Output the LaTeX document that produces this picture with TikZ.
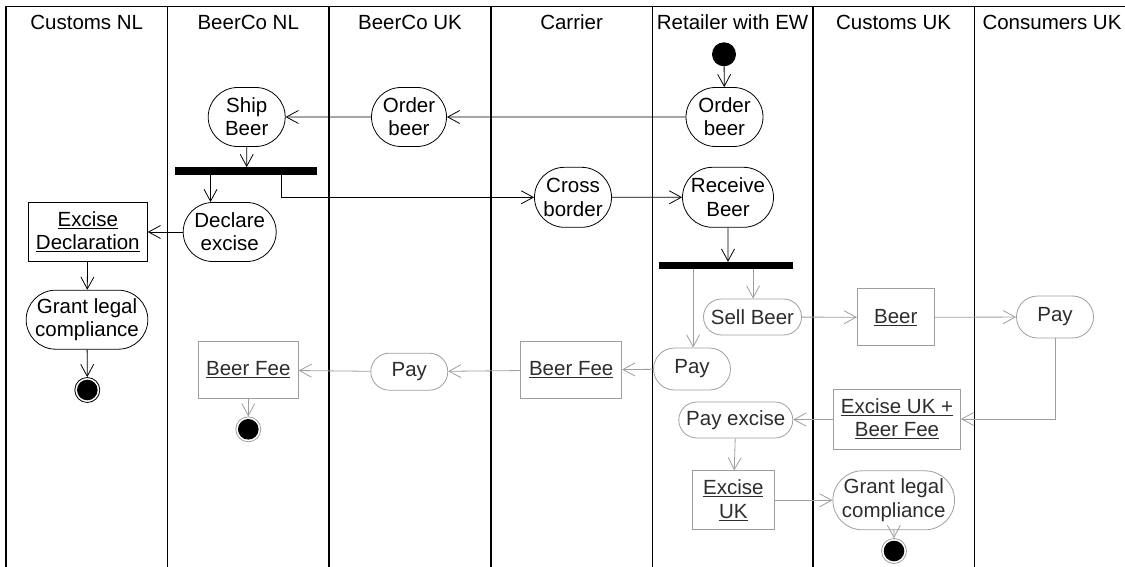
\documentclass[tikz,border=0pt]{standalone}
\usepackage{fontspec}
\setmainfont{Liberation Sans}
\usetikzlibrary{arrows.meta,shapes.misc,calc}
\definecolor{lineg}{RGB}{158,158,158}
\definecolor{textg}{RGB}{45,45,45}
\newcommand{\lbl}{\fontsize{20.5}{23.3}\selectfont}

\begin{document}
\begin{tikzpicture}[x=1pt,y=-1pt,
  lane/.style={line width=1.3pt},
  head/.style={font=\lbl, inner sep=0pt},
  act/.style={rounded rectangle, draw, line width=0.8pt, inner sep=0pt, align=center, font=\lbl},
  obj/.style={rectangle, draw, line width=0.8pt, inner sep=0pt, align=center, font=\lbl},
  grey/.style={draw=lineg, text=textg},
  flow/.style={line width=0.8pt, -{Straight Barb[length=12pt,width=13pt]}},
  gflow/.style={flow, draw=lineg},
  bar/.style={fill=black, draw=none, inner sep=0pt},
  init/.style={circle, fill=black, minimum size=24pt, inner sep=0pt},
  final/.style={circle, draw=black, line width=0.8pt, minimum size=25pt, inner sep=0pt,
    path picture={\fill[black] (path picture bounding box.center) circle (10.3pt);}},
]
\useasboundingbox (0,0) rectangle (1125,567);

% swimlanes
\draw[lane] (6,567) -- (6,6.7) -- (1125,6.7);
\foreach \x in {167.5,329,491,652.3,813,974.3}
  \draw[lane] (\x,6.7) -- (\x,567);

\node[head] (h1) at (86.75,22) {Customs NL};
\node[head] (h2) at (248.25,22) {BeerCo NL};
\node[head] (h3) at (410,22) {BeerCo UK};
\node[head] (h4) at (571.6,22) {Carrier};
\node[head] (h5) at (732.6,22) {Retailer with EW};
\node[head] (h6) at (893.6,22) {Customs UK};
\node[head] (h7) at (1052,22) {Consumers UK};

% ordering and shipping
\node[init] (start) at (724,54.3) {};
\node[act, minimum width=77pt, minimum height=59pt] (orderR) at (724.5,117) {Order\\beer};
\node[act, minimum width=75pt, minimum height=59pt] (orderUK) at (409,117) {Order\\beer};
\node[act, minimum width=77pt, minimum height=59pt] (ship) at (246.7,117) {Ship\\Beer};
\node[bar, minimum width=142.3pt, minimum height=7.7pt] (bar1) at (246.15,171.15) {};
\node[act, minimum width=93pt, minimum height=59pt] (declare) at (229.7,232) {Declare\\excise};
\node[act, minimum width=77pt, minimum height=60pt] (cross) at (573,197.3) {Cross\\border};
\node[act, minimum width=91pt, minimum height=60pt] (receive) at (728,197.3) {Receive\\Beer};
\node[obj, minimum width=119pt, minimum height=59pt] (excdecl) at (87.8,232) {\underline{Excise}\\\underline{Declaration}};
\node[act, minimum width=121pt, minimum height=59pt] (grantNL) at (87,319.7) {Grant legal\\compliance};
\node[final] (endNL) at (87.3,390) {};
\node[bar, minimum width=134.3pt, minimum height=7pt] (bar2) at (726.15,265.5) {};

% selling and payments
\node[act, grey, minimum width=98pt, minimum height=36pt] (sell) at (752.5,317) {Sell Beer};
\node[act, grey, minimum width=77pt, minimum height=42pt] (payR) at (692,369) {Pay};
\node[obj, grey, minimum width=77pt, minimum height=57pt] (beer) at (895.8,317.3) {\underline{Beer}};
\node[act, grey, minimum width=77pt, minimum height=42pt] (payC) at (1055,317) {Pay};
\node[obj, grey, minimum width=127pt, minimum height=60pt] (exukbf) at (897,419) {\underline{Excise UK +}\\\underline{Beer Fee}};
\node[act, grey, minimum width=114pt, minimum height=36pt] (payexc) at (735.8,420) {Pay excise};
\node[obj, grey, minimum width=82pt, minimum height=59pt] (exuk) at (733.3,500.3) {\underline{Excise}\\\underline{UK}};
\node[act, grey, minimum width=121pt, minimum height=59pt] (grantUK) at (893.7,500.3) {Grant legal\\compliance};
\node[final, draw=lineg] (endUK) at (894,551) {};
\node[obj, grey, minimum width=100pt, minimum height=57pt] (feeNL) at (248.3,370) {\underline{Beer Fee}};
\node[final, draw=lineg] (endBNL) at (248.3,429.3) {};
\node[act, grey, minimum width=77pt, minimum height=37pt] (payUK) at (409.3,371.7) {Pay};
\node[obj, grey, minimum width=101pt, minimum height=57pt] (feeC) at (571.2,370) {\underline{Beer Fee}};

% fork outlets
\coordinate (b1l) at ($(bar1.south west)+(35.7,0)$);
\coordinate (b1r) at ($(bar1.south west)+(107,0)$);
\coordinate (b2l) at ($(bar2.south west)+(34.3,0)$);
\coordinate (b2r) at ($(bar2.south west)+(94.3,0)$);

% control flow
\draw[flow] (start) -- (orderR);
\draw[flow] (orderR) -- (orderUK);
\draw[flow] (orderUK) -- (ship);
\draw[flow] (ship) -- (ship |- bar1.north);
\draw[flow] (b1l) -- (b1l |- declare.north);
\draw[flow] (b1r) |- (cross.west);
\draw[flow] (declare) -- (excdecl);
\draw[flow] (excdecl) -- (grantNL);
\draw[flow] (grantNL) -- (endNL);
\draw[flow] (cross) -- (receive);
\draw[flow] (receive) -- (receive |- bar2.north);

\draw[gflow] (b2l) -- (b2l |- payR.north);
\draw[gflow] (b2r) -- (b2r |- sell.north);
\draw[gflow] (sell) -- (beer);
\draw[gflow] (beer) -- (payC);
\draw[gflow] (payC) |- (exukbf);
\draw[gflow] (exukbf) -- (payexc);
\draw[gflow] (payexc) -- (exuk);
\draw[gflow] (exuk) -- (grantUK);
\draw[gflow] (grantUK) -- (endUK);
\draw[gflow] (payR) -- (feeC);
\draw[gflow] (feeC) -- (payUK);
\draw[gflow] (payUK) -- (feeNL);
\draw[gflow] (feeNL) -- (endBNL);
\end{tikzpicture}
\end{document}
